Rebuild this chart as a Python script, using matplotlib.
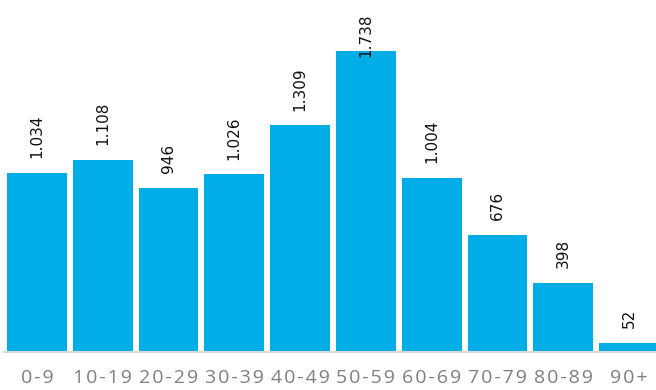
import matplotlib.pyplot as plt
import numpy as np

plt.rcParams["font.family"] = ["Open Sans", "DejaVu Sans"]

# ── Data ──────────────────────────────────────────────
age_groups = ["0-9", "10-19", "20-29", "30-39", "40-49",
              "50-59", "60-69", "70-79", "80-89", "90+"]
counts = [1034, 1108, 946, 1026, 1309, 1738, 1004, 676, 398, 52]

BAR_COLOR = "#00ADE6"
SPACE = "\u200a"


def spaced(s):
    # mimic the wide letter spacing of the tick labels
    return SPACE.join(s)


fig = plt.figure(figsize=(6.56, 3.9), dpi=100)
ax = fig.add_axes([4 / 656, 38 / 390, 658 / 656, 352 / 390])

x = np.arange(len(counts))
ax.bar(x, counts, width=0.91, color=BAR_COLOR, edgecolor="none")

ymax = 2032
ax.set_xlim(-0.5, len(counts) - 0.5)
ax.set_ylim(0, ymax)

for xi, v in zip(x, counts):
    label = f"{v:,}".replace(",", ".")
    y = min(v + 85, ymax - 330)
    ax.text(xi, y, label, rotation=90, ha="center", va="bottom",
            fontsize=11, color="#111111", family="DejaVu Sans")

ax.set_xticks(x)
ax.set_xticklabels([spaced(a) for a in age_groups], fontsize=14,
                   color="#7f7f7f")
ax.tick_params(axis="x", length=0, pad=12)
ax.set_yticks([])

for side in ["top", "right", "left"]:
    ax.spines[side].set_visible(False)
ax.spines["bottom"].set_color("#d9d9d9")
ax.spines["bottom"].set_linewidth(1.5)

fig.savefig("out.png", dpi=100)
